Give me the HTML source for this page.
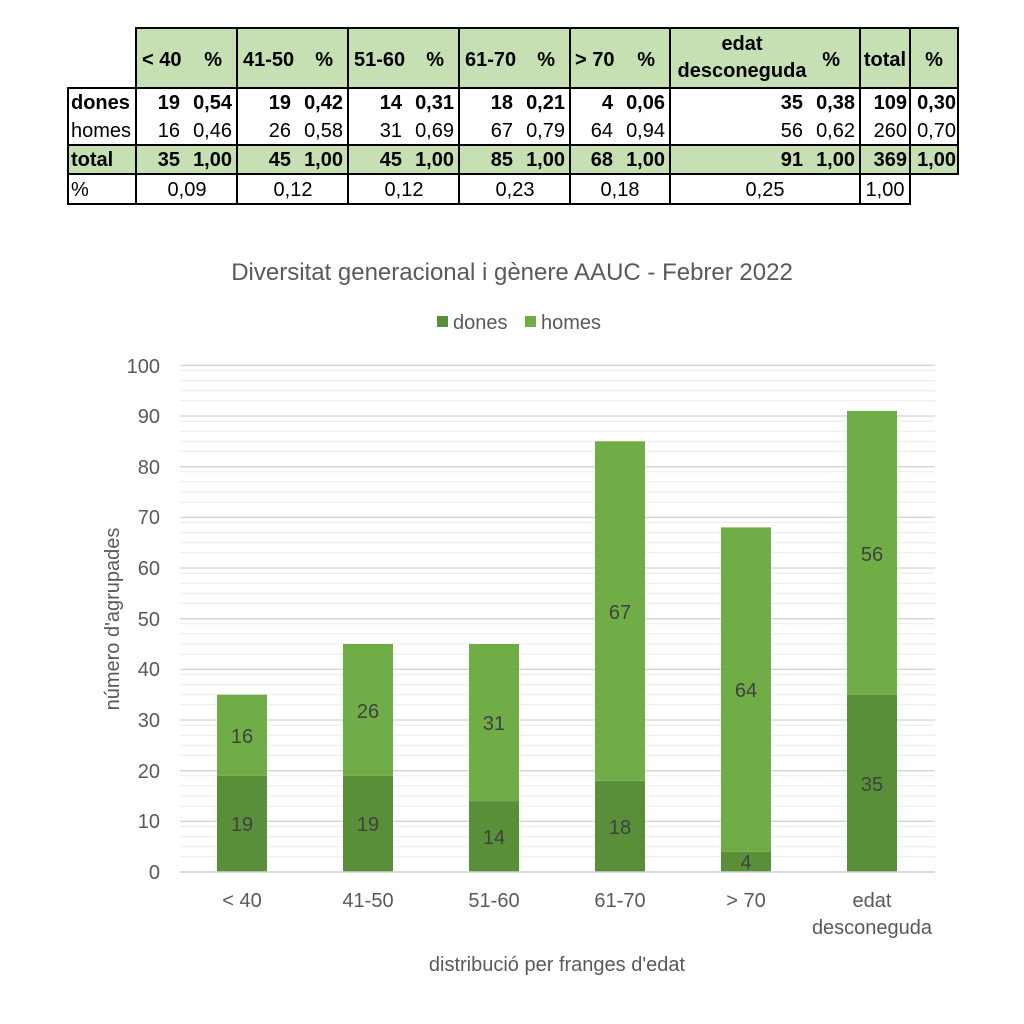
<!DOCTYPE html>
<html><head><meta charset="utf-8"><style>
body{margin:0;width:1024px;height:1024px;background:#fff;position:relative;font-family:"Liberation Sans Narrow","Liberation Sans",sans-serif;overflow:hidden}
</style></head><body>
<svg width="1024" height="1024" style="position:absolute;left:0;top:0" font-family="Liberation Sans Narrow, Liberation Sans, sans-serif">
<rect x="136" y="28" width="822" height="60" fill="#c6e0b4"/>
<rect x="68" y="145" width="890" height="29" fill="#c6e0b4"/>
<g stroke="#000" stroke-width="2" fill="none">
<rect x="136" y="28" width="822" height="60"/>
<rect x="68" y="88" width="890" height="57"/>
<rect x="68" y="145" width="890" height="29"/>
<rect x="68" y="174" width="842" height="30"/>
<line x1="136" y1="88" x2="136" y2="204"/>
<line x1="237" y1="28" x2="237" y2="204"/>
<line x1="348" y1="28" x2="348" y2="204"/>
<line x1="459" y1="28" x2="459" y2="204"/>
<line x1="570" y1="28" x2="570" y2="204"/>
<line x1="670" y1="28" x2="670" y2="204"/>
<line x1="860" y1="28" x2="860" y2="204"/>
<line x1="910" y1="28" x2="910" y2="174"/>
</g>
<g font-size="20" fill="#000">
<g font-weight="bold">
<text x="142" y="66">&lt; 40</text><text x="222" y="66" text-anchor="end">%</text>
<text x="243" y="66">41-50</text><text x="333" y="66" text-anchor="end">%</text>
<text x="354" y="66">51-60</text><text x="444" y="66" text-anchor="end">%</text>
<text x="465" y="66">61-70</text><text x="555" y="66" text-anchor="end">%</text>
<text x="575" y="66">&gt; 70</text><text x="655" y="66" text-anchor="end">%</text>
<text x="742" y="50" text-anchor="middle">edat</text><text x="742" y="77" text-anchor="middle">desconeguda</text><text x="840" y="66" text-anchor="end">%</text>
<text x="885" y="66" text-anchor="middle">total</text><text x="934" y="66" text-anchor="middle">%</text>
<text x="71" y="109">dones</text><text x="71" y="166">total</text>
</g>
<text x="71" y="137">homes</text><text x="71" y="196">%</text>
<g text-anchor="end">
<g font-weight="bold">
<text x="180" y="109">19</text><text x="232" y="109">0,54</text>
<text x="291" y="109">19</text><text x="343" y="109">0,42</text>
<text x="402" y="109">14</text><text x="454" y="109">0,31</text>
<text x="513" y="109">18</text><text x="565" y="109">0,21</text>
<text x="613" y="109">4</text><text x="665" y="109">0,06</text>
<text x="803" y="109">35</text><text x="855" y="109">0,38</text>
<text x="907" y="109">109</text><text x="956" y="109">0,30</text>
<text x="180" y="166">35</text><text x="232" y="166">1,00</text>
<text x="291" y="166">45</text><text x="343" y="166">1,00</text>
<text x="402" y="166">45</text><text x="454" y="166">1,00</text>
<text x="513" y="166">85</text><text x="565" y="166">1,00</text>
<text x="613" y="166">68</text><text x="665" y="166">1,00</text>
<text x="803" y="166">91</text><text x="855" y="166">1,00</text>
<text x="907" y="166">369</text><text x="956" y="166">1,00</text>
</g>
<text x="180" y="137">16</text><text x="232" y="137">0,46</text>
<text x="291" y="137">26</text><text x="343" y="137">0,58</text>
<text x="402" y="137">31</text><text x="454" y="137">0,69</text>
<text x="513" y="137">67</text><text x="565" y="137">0,79</text>
<text x="613" y="137">64</text><text x="665" y="137">0,94</text>
<text x="803" y="137">56</text><text x="855" y="137">0,62</text>
<text x="907" y="137">260</text><text x="956" y="137">0,70</text>
</g>
<g text-anchor="middle">
<text x="187" y="196">0,09</text><text x="293" y="196">0,12</text><text x="404" y="196">0,12</text>
<text x="515" y="196">0,23</text><text x="620" y="196">0,18</text><text x="765" y="196">0,25</text><text x="885" y="196">1,00</text>
</g>
</g>
<text x="512" y="280" font-size="24" fill="#595959" text-anchor="middle">Diversitat generacional i gènere AAUC - Febrer 2022</text>
<rect x="437" y="316" width="11" height="11" fill="#5a8f3a"/>
<text x="453" y="329" font-size="20" fill="#595959">dones</text>
<rect x="525" y="316" width="11" height="11" fill="#70ad47"/>
<text x="541" y="329" font-size="20" fill="#595959">homes</text>
<g stroke="#ebebeb" stroke-width="1">
<line x1="180" x2="935" y1="856.8" y2="856.8"/><line x1="180" x2="935" y1="846.7" y2="846.7"/><line x1="180" x2="935" y1="836.6" y2="836.6"/><line x1="180" x2="935" y1="826.4" y2="826.4"/>
<line x1="180" x2="935" y1="806.2" y2="806.2"/><line x1="180" x2="935" y1="796" y2="796"/><line x1="180" x2="935" y1="785.9" y2="785.9"/><line x1="180" x2="935" y1="775.8" y2="775.8"/>
<line x1="180" x2="935" y1="755.5" y2="755.5"/><line x1="180" x2="935" y1="745.4" y2="745.4"/><line x1="180" x2="935" y1="735.3" y2="735.3"/><line x1="180" x2="935" y1="725.1" y2="725.1"/>
<line x1="180" x2="935" y1="704.8" y2="704.8"/><line x1="180" x2="935" y1="694.7" y2="694.7"/><line x1="180" x2="935" y1="684.6" y2="684.6"/><line x1="180" x2="935" y1="674.5" y2="674.5"/>
<line x1="180" x2="935" y1="654.2" y2="654.2"/><line x1="180" x2="935" y1="644" y2="644"/><line x1="180" x2="935" y1="633.9" y2="633.9"/><line x1="180" x2="935" y1="623.8" y2="623.8"/>
<line x1="180" x2="935" y1="603.5" y2="603.5"/><line x1="180" x2="935" y1="593.4" y2="593.4"/><line x1="180" x2="935" y1="583.2" y2="583.2"/><line x1="180" x2="935" y1="573.1" y2="573.1"/>
<line x1="180" x2="935" y1="552.8" y2="552.8"/><line x1="180" x2="935" y1="542.7" y2="542.7"/><line x1="180" x2="935" y1="532.6" y2="532.6"/><line x1="180" x2="935" y1="522.4" y2="522.4"/>
<line x1="180" x2="935" y1="502.2" y2="502.2"/><line x1="180" x2="935" y1="492" y2="492"/><line x1="180" x2="935" y1="481.9" y2="481.9"/><line x1="180" x2="935" y1="471.8" y2="471.8"/>
<line x1="180" x2="935" y1="451.5" y2="451.5"/><line x1="180" x2="935" y1="441.4" y2="441.4"/><line x1="180" x2="935" y1="431.3" y2="431.3"/><line x1="180" x2="935" y1="421.1" y2="421.1"/>
<line x1="180" x2="935" y1="400.8" y2="400.8"/><line x1="180" x2="935" y1="390.7" y2="390.7"/><line x1="180" x2="935" y1="380.6" y2="380.6"/><line x1="180" x2="935" y1="370.5" y2="370.5"/>
</g>
<g stroke="#d4d4d4" stroke-width="1.3">
<line x1="180" x2="935" y1="821.3" y2="821.3"/><line x1="180" x2="935" y1="770.7" y2="770.7"/><line x1="180" x2="935" y1="720" y2="720"/><line x1="180" x2="935" y1="669.4" y2="669.4"/><line x1="180" x2="935" y1="618.7" y2="618.7"/><line x1="180" x2="935" y1="568" y2="568"/><line x1="180" x2="935" y1="517.4" y2="517.4"/><line x1="180" x2="935" y1="466.7" y2="466.7"/><line x1="180" x2="935" y1="416" y2="416"/><line x1="180" x2="935" y1="365.4" y2="365.4"/>
</g>
<g font-size="20" fill="#595959" text-anchor="end">
<text x="160" y="879">0</text><text x="160" y="828">10</text><text x="160" y="778">20</text><text x="160" y="727">30</text><text x="160" y="676">40</text><text x="160" y="626">50</text><text x="160" y="575">60</text><text x="160" y="524">70</text><text x="160" y="474">80</text><text x="160" y="423">90</text><text x="160" y="373">100</text>
</g>
<g fill="#5a8f3a">
<rect x="217" y="775.7" width="50" height="96.3"/>
<rect x="343" y="775.7" width="50" height="96.3"/>
<rect x="469" y="801.1" width="50" height="70.9"/>
<rect x="595" y="780.8" width="50" height="91.2"/>
<rect x="721" y="851.7" width="50" height="20.3"/>
<rect x="847" y="694.7" width="50" height="177.3"/>
</g>
<g fill="#70ad47">
<rect x="217" y="694.7" width="50" height="81"/>
<rect x="343" y="644" width="50" height="131.7"/>
<rect x="469" y="644" width="50" height="157.1"/>
<rect x="595" y="441.3" width="50" height="339.5"/>
<rect x="721" y="527.4" width="50" height="324.3"/>
<rect x="847" y="410.9" width="50" height="283.8"/>
</g>
<line x1="180" x2="935" y1="872" y2="872" stroke="#d0d0d0" stroke-width="1.5"/>
<g font-size="20" fill="#404040" text-anchor="middle">
<text x="242" y="831">19</text><text x="242" y="743">16</text>
<text x="368" y="831">19</text><text x="368" y="718">26</text>
<text x="494" y="844">14</text><text x="494" y="730">31</text>
<text x="620" y="834">18</text><text x="620" y="619">67</text>
<text x="746" y="869">4</text><text x="746" y="697">64</text>
<text x="872" y="791">35</text><text x="872" y="561">56</text>
</g>
<g font-size="20" fill="#595959" text-anchor="middle">
<text x="242" y="907">&lt; 40</text><text x="368" y="907">41-50</text><text x="494" y="907">51-60</text><text x="620" y="907">61-70</text><text x="746" y="907">&gt; 70</text>
<text x="872" y="907">edat</text><text x="872" y="934">desconeguda</text>
<text x="557" y="971">distribució per franges d'edat</text>
<text transform="translate(119,619) rotate(-90)">número d'agrupades</text>
</g>
</svg>
</body></html>
